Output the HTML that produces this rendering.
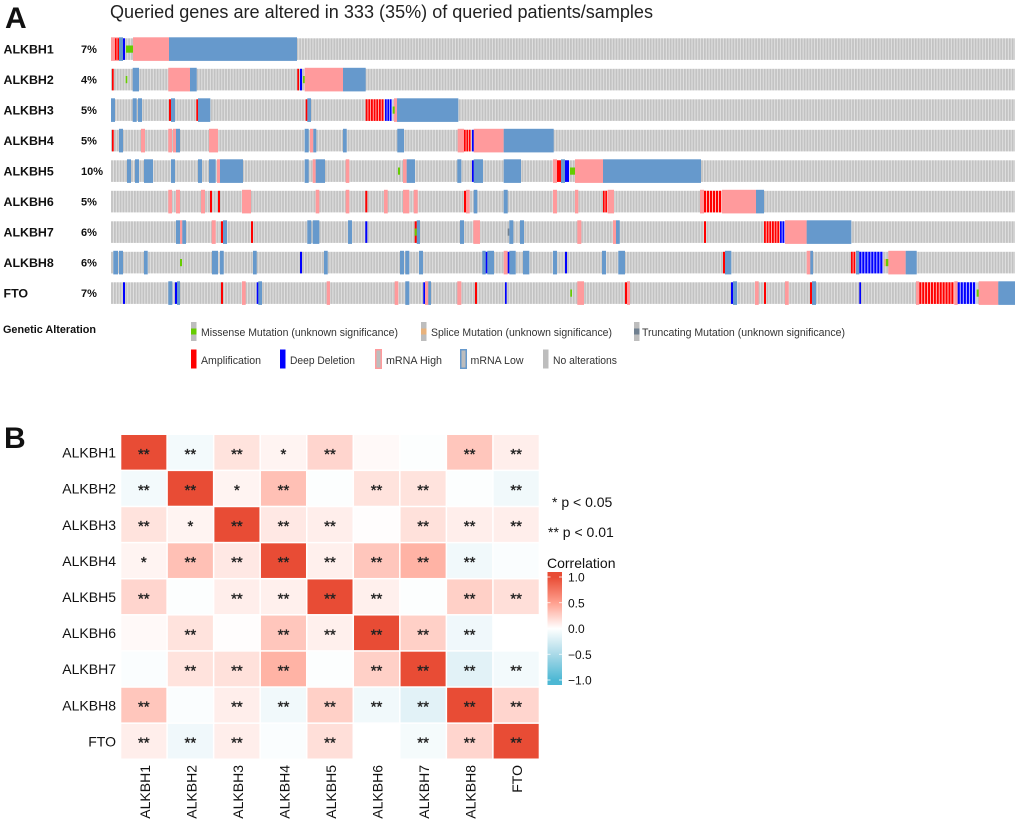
<!DOCTYPE html>
<html lang="en">
<head>
<meta charset="utf-8">
<title>Oncoprint and correlation heatmap</title>
<style>
html,body{margin:0;padding:0;background:#fff;width:1020px;height:822px;overflow:hidden}
svg{display:block;font-family:"Liberation Sans",sans-serif}
</style>
</head>
<body>
<svg id="chart" width="1020" height="822" viewBox="0 0 1020 822" xmlns="http://www.w3.org/2000/svg">
<defs>
<pattern id="noAlt" patternUnits="userSpaceOnUse" width="2.85" height="10">
<rect width="2.85" height="10" fill="#e0e0e0"></rect>
<rect width="1.75" height="10" fill="#c2c2c2"></rect>
</pattern>
<linearGradient id="corrGrad" x1="0" y1="0" x2="0" y2="1"></linearGradient>
</defs>
<rect width="1020" height="822" fill="#fff"></rect>
<text x="5" y="28" font-size="30" font-weight="bold" fill="#111">A</text>
<text x="110" y="18" font-size="18" fill="#222" textLength="543" lengthAdjust="spacingAndGlyphs">Queried genes are altered in 333 (35%) of queried patients/samples</text>
<text x="4" y="448" font-size="30" font-weight="bold" fill="#111">B</text>
<g id="tracks"></g>
<g font-size="11" fill="#333">
<text x="3" y="333" font-weight="bold" fill="#111" textLength="93" lengthAdjust="spacingAndGlyphs">Genetic Alteration</text>
<g><rect x="191" y="322" width="5.5" height="19" fill="#bdbdbd"></rect><rect x="191" y="328.5" width="5.5" height="6" fill="#66cc00"></rect><text x="201" y="336" textLength="197" lengthAdjust="spacingAndGlyphs">Missense Mutation (unknown significance)</text></g>
<g><rect x="421" y="322" width="5.5" height="19" fill="#bdbdbd"></rect><rect x="421" y="328.5" width="5.5" height="6" fill="#e8b27c"></rect><text x="431" y="336" textLength="181" lengthAdjust="spacingAndGlyphs">Splice Mutation (unknown significance)</text></g>
<g><rect x="634" y="322" width="5.5" height="19" fill="#bdbdbd"></rect><rect x="634" y="328.5" width="5.5" height="6" fill="#708090"></rect><text x="642" y="336" textLength="203" lengthAdjust="spacingAndGlyphs">Truncating Mutation (unknown significance)</text></g>
<g><rect x="191" y="349.5" width="5.5" height="19" fill="#ff0000"></rect><text x="201" y="364" textLength="60" lengthAdjust="spacingAndGlyphs">Amplification</text></g>
<g><rect x="280" y="349.5" width="5.5" height="19" fill="#0000ff"></rect><text x="290" y="364" textLength="65" lengthAdjust="spacingAndGlyphs">Deep Deletion</text></g>
<g><rect x="375" y="349" width="7" height="20" fill="#ff9a9c"></rect><rect x="376.5" y="350.5" width="4" height="17" fill="#bdbdbd"></rect><text x="386" y="364" textLength="56" lengthAdjust="spacingAndGlyphs">mRNA High</text></g>
<g><rect x="460" y="349" width="7" height="20" fill="#6699cc"></rect><rect x="461.5" y="350.5" width="4" height="17" fill="#bdbdbd"></rect><text x="470.5" y="364" textLength="53" lengthAdjust="spacingAndGlyphs">mRNA Low</text></g>
<g><rect x="543" y="349.5" width="5.5" height="19" fill="#bdbdbd"></rect><text x="553" y="364" textLength="64" lengthAdjust="spacingAndGlyphs">No alterations</text></g>
</g>
<g id="heatmap"></g>
<text x="552" y="507" font-size="14" fill="#111">* p &lt; 0.05</text>
<text x="548" y="537" font-size="14" fill="#111">** p &lt; 0.01</text>
<text x="547" y="568" font-size="14" fill="#111">Correlation</text>
<g id="colorbar"></g>
</svg>
<script>
// ---------- Oncoprint data: position along the sample axis ----------
const geneNames = ['ALKBH1','ALKBH2','ALKBH3','ALKBH4','ALKBH5','ALKBH6','ALKBH7','ALKBH8','FTO'];
const alteredPercent = ['7%','4%','5%','5%','10%','5%','6%','6%','7%'];
const sampleDomain = [111, 1015];
const eventsALKBH1 = [['H',111,119],['A',115,116.5],['A',117.5,119],['L',119,123],['D',123,125],['M',126,133],['H',133,169],['L',169,297]];
const eventsALKBH2 = [['A',112,113.7],['M',125.7,127.3],['L',132.7,139],['H',168.3,190],['L',190,196.7],['A',297.3,299],['D',300,302],['M',303,304.7],['H',304.7,343],['L',343,365.7]];
const eventsALKBH3 = [['L',111,115],['L',132.7,136.7],['L',138,142],['A',169,171],['L',171,175],['A',196.3,198],['L',198,210.3],['A',305.7,307.3],['L',307.3,311],['A',365.7,384.3],['D',385,392.3],['M',392.7,394.7],['H',394,397],['L',397,458.3]];
const eventsALKBH4 = [['A',112,113.7],['L',119,123],['H',141,145],['H',168.3,172],['H',173,176],['L',176,180],['H',209,218],['L',304.7,308.7],['H',310,313.3],['L',313.3,316.3],['L',343,346.7],['L',397.3,404],['H',457.7,464],['A',464,471.3],['D',472,473.7],['H',473.7,503.7],['L',503.7,553.7]];
const eventsALKBH5 = [['L',127,131],['L',135,139],['L',144,153],['L',171,175],['L',198,202],['L',209,215.7],['H',217,220],['L',220,243],['L',304.7,308.7],['H',312.7,315.7],['L',315.7,325],['H',345.7,349.3],['M',398,400],['H',403,406.7],['L',406.7,415],['L',457.3,461.3],['D',472,473.7],['L',473.7,483],['L',503.7,521],['H',553,557],['A',557,561],['L',561,565],['D',565,569],['M',570,575],['H',575,603],['L',603,701]];
const eventsALKBH6 = [['H',168.3,172],['H',176,180],['H',201,205],['A',210,212],['A',218,220],['H',242,251],['H',315.7,319.3],['H',345.7,349.3],['A',365.3,367.3],['H',384,387.7],['H',403,409.3],['H',413.7,417.7],['A',464,466],['H',466,469.7],['L',473.7,477.3],['L',503.7,507.7],['H',553,557],['H',575,578.3],['A',603,607.7],['H',607.7,614],['H',700,704],['A',704,722],['H',722,756],['L',756,764]];
const eventsALKBH7 = [['L',176,180],['H',180,182.3],['L',182.3,186],['H',211.7,215.7],['A',221,223],['L',223,227],['A',251,253],['L',307.3,311.3],['L',312.7,319.3],['L',348,352],['D',365.3,367.3],['A',414.7,416.7],['M',414.7,416.7],['L',416.7,420],['L',460,464],['H',473.3,480],['T',507.7,509.3],['L',509.3,513.3],['L',520,524],['H',577.3,581.3],['H',613,616],['L',616,619.7],['A',704,706],['A',764,780],['D',780,785],['H',785,806.7],['L',806.7,851.3]];
const eventsALKBH8 = [['L',113.3,118],['L',119,123],['L',144,147.7],['M',180,182],['L',212,218],['L',220,223.7],['L',253,256.7],['D',300,302],['L',324,327.7],['L',400,404],['L',405.3,409.3],['L',419,423],['L',482.3,485.7],['D',485.7,487.3],['L',487.3,494],['H',503.7,507.7],['D',507.7,509.3],['L',509.3,515.7],['L',523,529.3],['L',553,557],['D',565,567],['L',602,606],['L',618.3,625],['A',723,725],['L',725,731.3],['H',806.7,810.3],['L',810.3,813],['A',851,856],['L',856,859.3],['D',859.3,883.3],['S',884,886],['M',886,888.3],['H',888.3,905.7],['L',905.7,916.7]];
const eventsFTO = [['D',123,125],['L',168.3,172.3],['D',175,177],['L',177,180],['A',221,223],['H',242,245.7],['D',256.7,258.3],['L',258.3,262],['H',326.7,330],['H',394.7,398.3],['L',405.3,409.3],['D',423.3,425],['H',425,428.3],['L',428.3,431],['H',457.3,461.3],['A',475,477],['D',505,506.7],['M',570.3,572],['H',577.3,584],['A',625,627],['H',627,630],['D',731,733],['L',733,737],['H',755,758.7],['A',764,766],['H',785,788.7],['A',810,812],['L',812,816],['D',859.3,861],['H',916,919.3],['A',919.3,954.3],['H',954.3,957.7],['D',957.7,976],['M',976.7,978.7],['H',978.7,998.3],['L',998.3,1015]];
const allGeneEvents = [eventsALKBH1,eventsALKBH2,eventsALKBH3,eventsALKBH4,eventsALKBH5,eventsALKBH6,eventsALKBH7,eventsALKBH8,eventsFTO];

// ---------- Heatmap data ----------
const corrValues = [
 [1,-0.07,0.15,0.06,0.22,0.03,-0.02,0.3,0.09],
 [-0.07,1,0.06,0.33,-0.02,0.15,0.15,-0.02,-0.08],
 [0.15,0.06,1,0.12,0.09,0.01,0.16,0.09,0.09],
 [0.06,0.33,0.12,1,0.08,0.3,0.4,-0.08,-0.03],
 [0.22,-0.02,0.09,0.08,1,0.08,-0.02,0.25,0.17],
 [0.03,0.15,0.01,0.3,0.08,1,0.25,-0.09,0],
 [-0.03,0.15,0.16,0.4,-0.02,0.25,1,-0.17,-0.07],
 [0.3,-0.03,0.09,-0.08,0.25,-0.08,-0.17,1,0.22],
 [0.09,-0.09,0.09,-0.03,0.17,0,-0.06,0.22,1]
];
const sigStars = [
 ['**','**','**','*','**','','','**','**'],
 ['**','**','*','**','','**','**','','**'],
 ['**','*','**','**','**','','**','**','**'],
 ['*','**','**','**','**','**','**','**',''],
 ['**','','**','**','**','**','','**','**'],
 ['','**','','**','**','**','**','**',''],
 ['','**','**','**','','**','**','**','**'],
 ['**','','**','**','**','**','**','**','**'],
 ['**','**','**','','**','','**','**','**']
];
const colorbarTicks = [1,0.5,0,-0.5,-1];
const colorbarTickLabels = ['1.0','0.5','0.0','\u22120.5','\u22121.0'];

// ---------- Helpers ----------
const NS = 'http://www.w3.org/2000/svg';
function mk(tag, parent, attrs) {
  const el = document.createElementNS(NS, tag);
  for (const k in attrs) el.setAttribute(k, attrs[k]);
  parent.appendChild(el);
  return el;
}
function linear(d0, d1, r0, r1) { return v => r0 + (v - d0) * (r1 - r0) / (d1 - d0); }
const sampleX = linear(sampleDomain[0], sampleDomain[1], 111, 1015);
const trackY = linear(0, 8, 38.3, 282.3);
const trackH = 21.6;
const typeNames = {H:'mrna-high',L:'mrna-low',A:'amplification',D:'deep-deletion',M:'missense-mutation',S:'splice-mutation',T:'truncating-mutation'};
const typeColors = {H:'#ff9a9c',L:'#6699cc',A:'#ff0000',D:'#0000ff',M:'#66cc00',S:'#e8b27c',T:'#708090'};
const gapColors = {A:'#ffc0c0',D:'#c4c4ff'};
const stripeStep = 2.85;

// ---------- Oncoprint ----------
const tracks = document.getElementById('tracks');
geneNames.forEach((gene, i) => {
  const y = trackY(i);
  const g = mk('g', tracks, {});
  
  
  const label = mk('text', g, {x:3.5, y:y+trackH/2+4.5, 'font-size':12.4, 'font-weight':'bold', fill:'#111'});
  
  
  label.textContent = gene;
  const pct = mk('text', g, {x:81, y:y+trackH/2+4, 'font-size':11, 'font-weight':'bold', fill:'#111'});
  
  
  pct.textContent = alteredPercent[i];
  const bg = mk('rect', g, {x:sampleX(sampleDomain[0]), y:y, width:sampleX(sampleDomain[1])-sampleX(sampleDomain[0]), height:trackH, fill:'url(#noAlt)'});
  
  
  const order = ['H','L','A','D','M','S','T'];
  order.forEach(type => {
    allGeneEvents[i].filter(e => e[0] === type).forEach(e => {
      const x0 = sampleX(e[1]), x1 = sampleX(e[2]), w = x1 - x0;
      if (type === 'H' || type === 'L') {
        const r = mk('rect', g, {x:x0, y:y-1, width:w, height:trackH+2, fill:typeColors[type]});
        
        
      } else if (type === 'A' || type === 'D') {
        if (w > 3) {
          const base = mk('rect', g, {x:x0, y:y, width:w, height:trackH, fill:gapColors[type]});
          
          
        }
        const count = Math.max(1, Math.round(w / stripeStep));
        const step = w / count;
        for (let s = 0; s < count; s++) {
          const r = mk('rect', g, {x:x0 + s*step, y:y, width: count === 1 ? w : step*0.68, height:trackH, fill:typeColors[type]});
          
          
        }
      } else {
        const r = mk('rect', g, {x:x0, y:y+trackH/3, width:w, height:trackH/3, fill:typeColors[type]});
        
        
      }
    });
  });
});

// ---------- Heatmap ----------
const heat = document.getElementById('heatmap');
const colX = linear(0, 9, 121.3, 540.2);
const rowY = linear(0, 9, 435, 760);
const cellGap = 1.5;
function hex2(n) { return Math.round(n).toString(16).padStart(2, '0'); }
function mix(a, b, t) { return [a[0]+(b[0]-a[0])*t, a[1]+(b[1]-a[1])*t, a[2]+(b[2]-a[2])*t]; }
function corrColor(v) {
  v = Math.max(-1, Math.min(1, v));
  const white = [255,255,255], mid = [255,160,143], hi = [232,76,53], lowMid = [170,218,232], low = [77,184,212];
  let c;
  if (v >= 0.5) c = mix(mid, hi, (v-0.5)/0.5);
  else if (v >= 0) c = mix(white, mid, v/0.5);
  else if (v >= -0.5) c = mix(white, lowMid, -v/0.5);
  else c = mix(lowMid, low, (-v-0.5)/0.5);
  return '#' + hex2(c[0]) + hex2(c[1]) + hex2(c[2]);
}
geneNames.forEach((gene, r) => {
  const rowLabel = mk('text', heat, {x:116, y:(rowY(r)+rowY(r+1))/2+4.5, 'font-size':14, 'text-anchor':'end', fill:'#111'});
  
  
  rowLabel.textContent = gene;
  const cx = (colX(r)+colX(r+1))/2 - 0.7;
  const colLabel = mk('text', heat, {x:0, y:0, 'font-size':14, 'text-anchor':'end', fill:'#111', transform:'translate(' + (cx+6) + ',765) rotate(-90)'});
  
  
  colLabel.textContent = gene;
  geneNames.forEach((other, c) => {
    const x0 = colX(c), x1 = colX(c+1), y0 = rowY(r), y1 = rowY(r+1);
    const cell = mk('rect', heat, {x:x0, y:y0, width:x1-x0-cellGap, height:y1-y0-cellGap, fill:corrColor(corrValues[r][c])});
    
    
    if (sigStars[r][c]) {
      const star = mk('text', heat, {x:(x0+x1-cellGap)/2, y:(y0+y1-cellGap)/2+6.5, 'font-size':15, 'text-anchor':'middle', fill:'#222', stroke:'#222', 'stroke-width':0.35});
      
      
      star.textContent = sigStars[r][c];
    }
  });
});

// ---------- Colorbar ----------
const bar = document.getElementById('colorbar');
const barY = linear(1, -1, 577, 680);
const barTop = 572, barBottom = 685, barLeft = 547.5, barWidth = 14.5;
const grad = document.getElementById('corrGrad');
for (let i = 0; i <= 22; i++) {
  const v = 1.1 - i*0.1;
  mk('stop', grad, {offset:(i/22), 'stop-color':corrColor(v)});
}
const barRect = mk('rect', bar, {x:barLeft, y:barTop, width:barWidth, height:barBottom-barTop, fill:'url(#corrGrad)'});


colorbarTicks.forEach((t, i) => {
  const y = barY(t);
  const l1 = mk('line', bar, {x1:barLeft, x2:barLeft+3, y1:y, y2:y, stroke:'#fff', 'stroke-width':0.8});
  
  
  const l2 = mk('line', bar, {x1:barLeft+barWidth-3, x2:barLeft+barWidth, y1:y, y2:y, stroke:'#fff', 'stroke-width':0.8});
  
  
  const lab = mk('text', bar, {x:568, y:y+4.5, 'font-size':12, fill:'#111'});
  
  
  lab.textContent = colorbarTickLabels[i];
});
</script>
</body>
</html>
